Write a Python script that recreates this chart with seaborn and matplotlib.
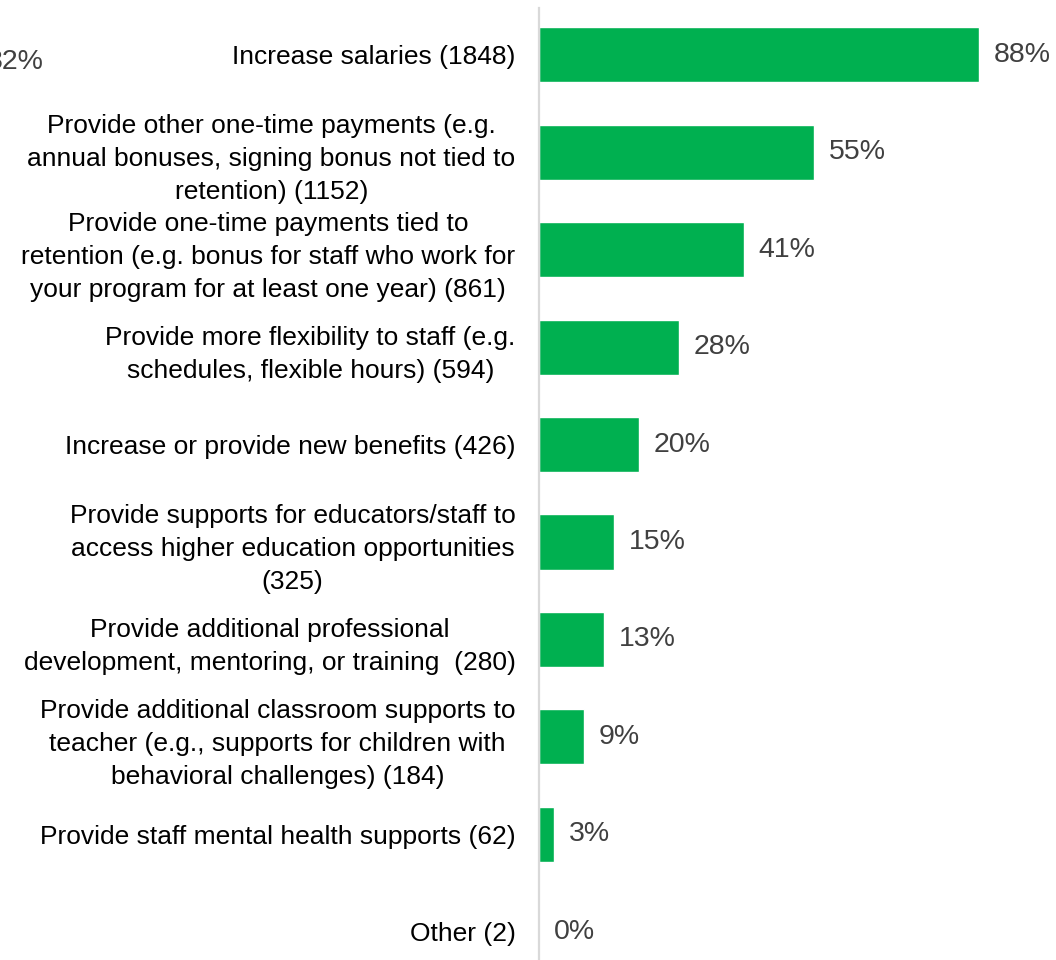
import matplotlib
matplotlib.use("Agg")
import matplotlib.pyplot as plt
import seaborn as sns
import pandas as pd

categories = [
    "Increase salaries (1848)",
    "Provide other one-time payments (e.g.\nannual bonuses, signing bonus not tied to\nretention) (1152)",
    "Provide one-time payments tied to\nretention (e.g. bonus for staff who work for\nyour program for at least one year) (861)",
    "Provide more flexibility to staff (e.g.\nschedules, flexible hours) (594)",
    "Increase or provide new benefits (426)",
    "Provide supports for educators/staff to\naccess higher education opportunities\n(325)",
    "Provide additional professional\ndevelopment, mentoring, or training  (280)",
    "Provide additional classroom supports to\nteacher (e.g., supports for children with\nbehavioral challenges) (184)",
    "Provide staff mental health supports (62)",
    "Other (2)",
]
values = [88, 55, 41, 28, 20, 15, 13, 9, 3, 0]

df = pd.DataFrame({"category": categories, "value": values})

sns.set_theme(style="white")
plt.rcParams["font.family"] = ["Liberation Sans", "DejaVu Sans"]

fig = plt.figure(figsize=(10.56, 9.6), dpi=100)
ax = fig.add_axes([539 / 1056, 0.0, 500 / 1056, 952 / 960])

sns.barplot(data=df, x="value", y="category", orient="h", color="#00B050",
            saturation=1, width=0.565, ax=ax)

ax.set_xlim(0, 100)
ax.set_ylim(9.29, -0.48)
ax.set_xlabel("")
ax.set_ylabel("")
ax.set_xticks([])
for s in ["top", "right", "bottom"]:
    ax.spines[s].set_visible(False)
ax.spines["left"].set_color("#d9d9d9")
ax.spines["left"].set_linewidth(1.6)

ax.tick_params(axis="y", length=0, pad=17, labelsize=19, labelcolor="#000000")
for lbl in ax.get_yticklabels():
    lbl.set_multialignment("center")
    lbl.set_linespacing(1.47)

for c in ax.containers:
    ax.bar_label(c, labels=[f"{v}%" for v in values], padding=10.5,
                 fontsize=20.5, color="#404040")

fig.text(44 / 1056, 1 - 62 / 960, "32%", ha="right", va="center",
         fontsize=20.5, color="#404040")

fig.savefig("out.png", dpi=100)
